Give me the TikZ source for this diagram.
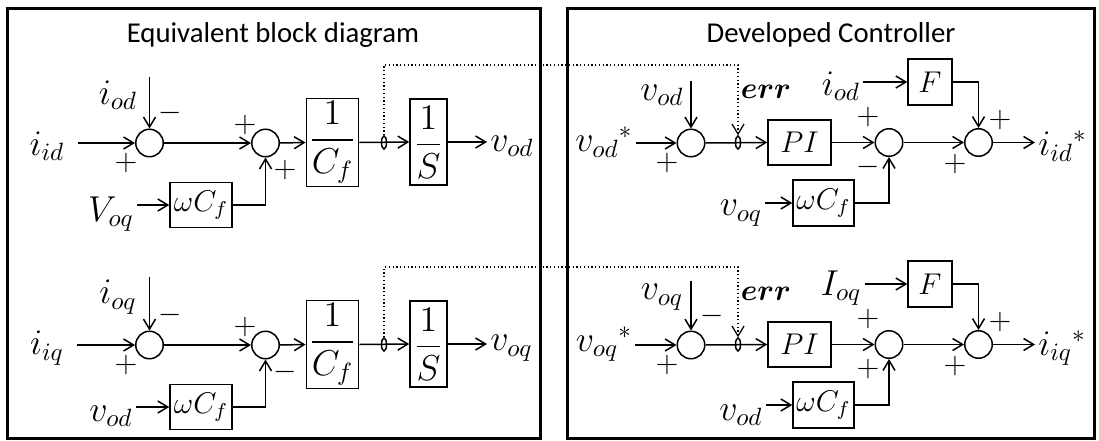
\documentclass[tikz,border=0pt]{standalone}
\usepackage{amsmath}
\usepackage{amssymb}
\usepackage{fontspec}
\newfontfamily\titlefont{Carlito}
\usepackage{tikz}
\usetikzlibrary{arrows.meta,shapes.geometric}
\tikzset{sumnode/.style={draw,circle,minimum size=11pt,inner sep=0pt},
  blk/.style={draw,rectangle,inner sep=1pt,font=\large},
  lbl/.style={inner sep=1pt,font=\Large},
  sgn/.style={inner sep=0pt,font=\large},
  pick/.style={draw,ellipse,minimum width=2pt,minimum height=5.2pt,inner sep=0pt},
  panel/.style={draw,line width=1.2pt},
  ttl/.style={font=\titlefont\fontsize{11.5}{14}\selectfont}}

\begin{document}
\begin{tikzpicture}[x=0.4pt, y=-0.4pt, line width=0.6pt, >={Straight Barb[length=4pt,width=4.8pt]}]
\useasboundingbox (0,0) rectangle (1099,440);
\draw[panel] (7,8) rectangle (540,438);
\draw[panel] (567,8) rectangle (1094,438);
\node[ttl] (tl) at (273,35) {Equivalent block diagram};
\node[ttl] (tr) at (831,35) {Developed Controller};

\foreach \n/\dy/\iin/\iout/\vx/\sx/\vout/\vstar/\vmeas/\vy/\sy/\fwd/\iref in {
  1/0/i_{id}/i_{od}/V_{oq}/+/v_{od}/v_{od}{}^{*}/v_{od}/v_{oq}/-/i_{od}/i_{id}{}^{*},
  2/202/i_{iq}/i_{oq}/v_{od}/-/v_{oq}/v_{oq}{}^{*}/v_{oq}/v_{od}/+/I_{oq}/i_{iq}{}^{*}}{
  % equivalent block diagram
  \node[sumnode] (sa\n) at (149.5,\dy+143) {};
  \node[sumnode] (sb\n) at (265.5,\dy+143) {};
  \node[blk,minimum width=24.8pt,minimum height=18pt] (wa\n) at (201,\dy+205) {$\omega C_f$};
  \node[blk,font=\Large,minimum width=19.6pt,minimum height=34.8pt] (cf\n) at (332.5,\dy+142.5) {$\dfrac{1}{C_f}$};
  \node[pick] (ka\n) at (384,\dy+142.5) {};
  \node[blk,font=\Large,minimum width=14.8pt,minimum height=34.4pt] (is\n) at (428.5,\dy+142) {$\dfrac{1}{S}$};
  \node[lbl] (ii\n) at (47,\dy+146) {$\iin$};
  \node[lbl] (io\n) at (118,\dy+95) {$\iout$};
  \node[lbl] (vx\n) at (111,\dy+214) {$\vx$};
  \node[lbl,anchor=west] (vo\n) at (487,\dy+146) {$\vout$};
  \node[sgn] (ma\n) at (170,\dy+113) {$-$};
  \node[sgn] (pa\n) at (126,\dy+163) {$+$};
  \node[sgn] (pb\n) at (245,\dy+125) {$+$};
  \node[sgn] (qb\n) at (285,\dy+170) {$\sx$};
  \draw[->,shorten <=4pt] (ii\n.east |- sa\n) -- (sa\n.west);
  \draw[->] (sa\n |- io\n.north) -- (sa\n.north);
  \draw[->] (sa\n.east) -- (sb\n.west);
  \draw[->] (vx\n.east |- wa\n) -- (wa\n.west);
  \draw[->] (wa\n.east) -| (sb\n.south);
  \draw[->] (sb\n.east) -- (cf\n.west);
  \draw[->] (cf\n.east) -- (is\n.west);
  \draw[->] (is\n.east) -- (vo\n.west |- is\n.east);
  % developed controller
  \node[sumnode] (sc\n) at (691,\dy+143) {};
  \node[pick] (kb\n) at (738,\dy+142.5) {};
  \node[blk,minimum width=25.2pt,minimum height=18pt] (pi\n) at (799.5,\dy+142.5) {$PI$};
  \node[blk,minimum width=24.4pt,minimum height=18.4pt] (wb\n) at (823.5,\dy+203) {$\omega C_f$};
  \node[sumnode] (sd\n) at (889,\dy+142.5) {};
  \node[blk,minimum width=17.6pt,minimum height=18.4pt] (fb\n) at (930,\dy+82) {$F$};
  \node[sumnode] (se\n) at (978.5,\dy+142.5) {};
  \node[lbl] (vs\n) at (604,\dy+142) {$\vstar$};
  \node[lbl] (vm\n) at (662,\dy+95) {$\vmeas$};
  \node[lbl] (vy\n) at (741,\dy+213) {$\vy$};
  \node[lbl] (fi\n) at (841,\dy+86) {$\fwd$};
  \node[lbl,anchor=west] (ir\n) at (1035,\dy+146) {$\iref$};
  \node[lbl,font=\large] (er\n) at (766,\dy+92) {$\boldsymbol{err}$};
  \node[sgn] (pc\n) at (667,\dy+163) {$+$};
  \node[sgn] (pd\n) at (868,\dy+117) {$+$};
  \node[sgn] (qd\n) at (868,\dy+167) {$\sy$};
  \node[sgn] (pe\n) at (1000,\dy+120) {$+$};
  \node[sgn] (pf\n) at (955,\dy+164) {$+$};
  \ifnum\n=2 \node[sgn] (mc\n) at (712,\dy+114) {$-$}; \fi
  \draw[->] (vs\n.east |- sc\n) -- (sc\n.west);
  \draw[->] (sc\n |- vm\n.north) -- (sc\n.north);
  \draw[->] (sc\n.east) -- (pi\n.west);
  \draw[->] (vy\n.east |- wb\n) -- (wb\n.west);
  \draw[->] (pi\n.east) -- (sd\n.west);
  \draw[->] (wb\n.east) -| (sd\n.south);
  \draw[->] (sd\n.east) -- (se\n.west);
  \draw[->] (fi\n.east |- fb\n) -- (fb\n.west);
  \draw[->] (fb\n.east) -| (se\n.north);
  \draw[->] (se\n.east) -- (ir\n.west |- se\n.east);
  % err feedback
  \coordinate (dt\n) at (0,\dy+65);
  \draw[->,densely dotted,line width=0.5pt] (ka\n.north) -- (ka\n |- dt\n) -| (kb\n.north);
}
\end{tikzpicture}
\end{document}
